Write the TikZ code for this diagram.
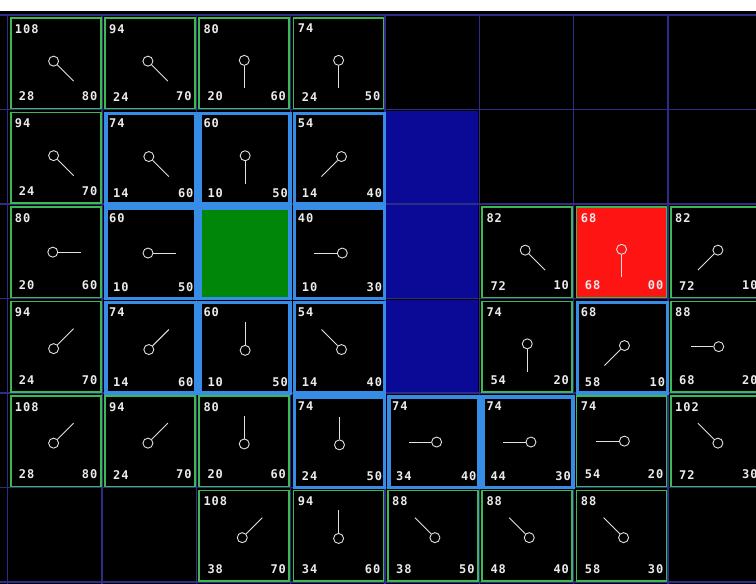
\documentclass[tikz,border=0pt]{standalone}
\usepackage{fontspec}
\newfontfamily\pix{DejaVu Sans Mono}[LetterSpace=8]
\definecolor{gridc}{RGB}{45,45,135}
\definecolor{openc}{RGB}{60,185,80}
\definecolor{closedc}{RGB}{55,140,230}
\definecolor{wallc}{RGB}{10,10,150}
\definecolor{startc}{RGB}{0,135,10}
\definecolor{goalc}{RGB}{255,20,20}
\definecolor{ptrc}{RGB}{225,225,225}
\tikzset{
  cellbox/.style={minimum width=90pt, minimum height=90.5pt, inner sep=0pt, anchor=north west, fill=black},
  openbox/.style={cellbox, draw=openc, line width=1.8pt},
  closedbox/.style={cellbox, draw=closedc, line width=3.6pt},
  goalbox/.style={openbox, fill=goalc},
  startbox/.style={closedbox, fill=startc},
  numtxt/.style={text=white!92!black, font=\pix\bfseries\fontsize{12}{12}\selectfont, inner sep=0pt},
  ptrcirc/.style={circle, draw=ptrc, line width=0.9pt, minimum size=10pt, inner sep=0pt},
  ptrline/.style={draw=ptrc, line width=0.9pt},
  gridline/.style={draw=gridc, line width=1.2pt},
}
\newcommand\pcell[8]{%
  \pgfmathsetmacro\xl{7.7+94.33*#2}%
  \pgfmathsetmacro\yt{15+94.5*#1}%
  \node[#3box] (c#1#2) at (\xl+2,\yt+2) {};
  \node[ptrcirc] (p#1#2) at ([shift={({-0.1*#7},{-0.1*#8})}]c#1#2.center) {};
  \coordinate (e#1#2) at ([shift={(#7,#8)}]p#1#2.center);
  \draw[ptrline] (p#1#2) -- (e#1#2);
  \node[numtxt, anchor=north west] (f#1#2) at ([shift={(5,7)}]c#1#2.north west) {#4};
  \node[numtxt, anchor=south west] (g#1#2) at ([shift={(9,-8)}]c#1#2.south west) {#5};
  \node[numtxt, anchor=south east] (h#1#2) at ([shift={(-4,-8)}]c#1#2.south east) {#6};
}
\begin{document}
\begin{tikzpicture}[x=1pt,y=-1pt]
\useasboundingbox (0,0) rectangle (756,584);
\fill[white] (0,0) rectangle (756,584);
\fill[black] (0,11) rectangle (756,584);
% grid
\foreach \k in {0,...,8} {\draw[gridline] ({7.7+94.33*\k},14) -- ({7.7+94.33*\k},584);}
\foreach \k in {0,...,6} {\draw[gridline] (0,{15+94.5*\k}) -- (756,{15+94.5*\k});}
% walls
\foreach \r in {1,2,3} {\fill[wallc] ({7.7+94.33*4+1},{15+94.5*\r+1}) rectangle ({7.7+94.33*5-1},{15+94.5*(\r+1)-1});}
% start cell
\node[startbox] (start) at ({7.7+94.33*2+2},{15+94.5*2+2}) {};
% row 0
\pcell{0}{0}{open}{108}{28}{80}{20}{20}
\pcell{0}{1}{open}{94}{24}{70}{20}{20}
\pcell{0}{2}{open}{80}{20}{60}{0}{28}
\pcell{0}{3}{open}{74}{24}{50}{0}{28}
% row 1
\pcell{1}{0}{open}{94}{24}{70}{20}{20}
\pcell{1}{1}{closed}{74}{14}{60}{20}{20}
\pcell{1}{2}{closed}{60}{10}{50}{0}{28}
\pcell{1}{3}{closed}{54}{14}{40}{-20}{20}
% row 2
\pcell{2}{0}{open}{80}{20}{60}{28}{0}
\pcell{2}{1}{closed}{60}{10}{50}{28}{0}
\pcell{2}{3}{closed}{40}{10}{30}{-28}{0}
\pcell{2}{5}{open}{82}{72}{10}{20}{20}
\pcell{2}{6}{goal}{68}{68}{00}{0}{28}
\pcell{2}{7}{open}{82}{72}{10}{-20}{20}
% row 3
\pcell{3}{0}{open}{94}{24}{70}{20}{-20}
\pcell{3}{1}{closed}{74}{14}{60}{20}{-20}
\pcell{3}{2}{closed}{60}{10}{50}{0}{-28}
\pcell{3}{3}{closed}{54}{14}{40}{-20}{-20}
\pcell{3}{5}{open}{74}{54}{20}{0}{28}
\pcell{3}{6}{closed}{68}{58}{10}{-20}{20}
\pcell{3}{7}{open}{88}{68}{20}{-28}{0}
% row 4
\pcell{4}{0}{open}{108}{28}{80}{20}{-20}
\pcell{4}{1}{open}{94}{24}{70}{20}{-20}
\pcell{4}{2}{open}{80}{20}{60}{0}{-28}
\pcell{4}{3}{closed}{74}{24}{50}{0}{-28}
\pcell{4}{4}{closed}{74}{34}{40}{-28}{0}
\pcell{4}{5}{closed}{74}{44}{30}{-28}{0}
\pcell{4}{6}{open}{74}{54}{20}{-28}{0}
\pcell{4}{7}{open}{102}{72}{30}{-20}{-20}
% row 5
\pcell{5}{2}{open}{108}{38}{70}{20}{-20}
\pcell{5}{3}{open}{94}{34}{60}{0}{-28}
\pcell{5}{4}{open}{88}{38}{50}{-20}{-20}
\pcell{5}{5}{open}{88}{48}{40}{-20}{-20}
\pcell{5}{6}{open}{88}{58}{30}{-20}{-20}
\end{tikzpicture}
\end{document}
